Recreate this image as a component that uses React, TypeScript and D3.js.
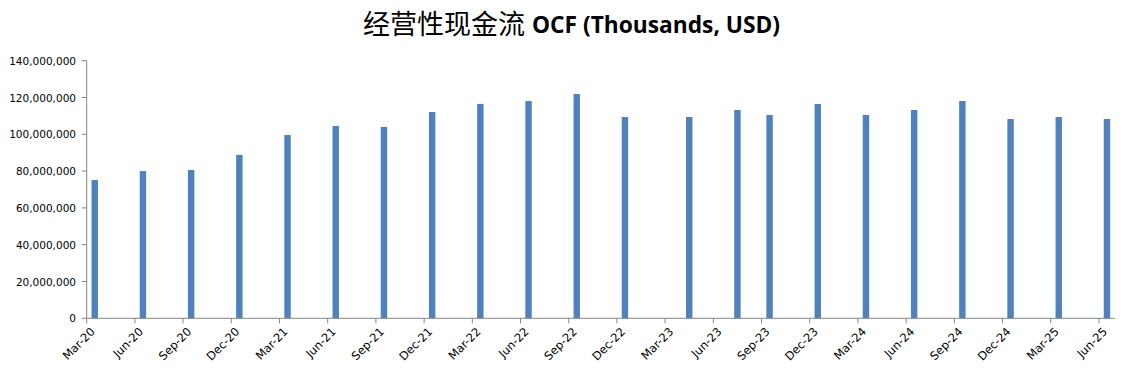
import React from "react";
import * as d3 from "d3";

const periods = ["2020-03","2020-06","2020-09","2020-12","2021-03","2021-06","2021-09","2021-12","2022-03","2022-06","2022-09","2022-12","2023-04","2023-07","2023-09","2023-12","2024-03","2024-06","2024-09","2024-12","2025-03","2025-06"];
const ocfValues = [75200000,80000000,80600000,88800000,99600000,104500000,104000000,112100000,116500000,118100000,121900000,109400000,109400000,113200000,110500000,116500000,110500000,113200000,118100000,108300000,109400000,108300000];
const yTicks = [0,20000000,40000000,60000000,80000000,100000000,120000000,140000000];
const monthNames = ["Jan","Feb","Mar","Apr","May","Jun","Jul","Aug","Sep","Oct","Nov","Dec"];
const startYear = 2020, startMonth = 3, monthCount = 64, tickStep = 3;

const W = 1139, H = 383;
const left = 86.7, right = 1115, top = 60.7, bottom = 318.3;

function monthIndex(p: string) {
  const [y, m] = p.split("-").map(Number);
  return (y - startYear) * 12 + (m - startMonth);
}
function indexLabel(i: number) {
  const total = startMonth - 1 + i;
  const y = startYear + Math.floor(total / 12);
  const m = total % 12;
  return `${monthNames[m]}-${String(y % 100).padStart(2, "0")}`;
}

export default function App() {
  const x = d3.scaleLinear().domain([0, monthCount]).range([left, right]);
  const y = d3.scaleLinear().domain([0, 140000000]).range([bottom, top]);
  const slot = x(1) - x(0);
  const bw = slot / 2.5;
  const fmt = d3.format(",");
  const xTicks = d3.range(0, monthCount, tickStep);
  const axisColor = "#868686";
  const font = "'DejaVu Sans', sans-serif";
  return (
    <div style={{ position: "absolute", left: 0, top: 0 }}>
      <svg width={W} height={H} style={{ display: "block", background: "#fff" }}>
        <text x={525} y={34} textAnchor="end" fontFamily="'Noto Sans CJK SC', sans-serif" fontSize={27} fontWeight={400} fill="#000">经营性现金流</text>
        <text x={532} y={33} fontFamily="'Open Sans', sans-serif" fontSize={24} fontWeight={700} fill="#000" textLength={248} lengthAdjust="spacingAndGlyphs">OCF (Thousands, USD)</text>
        {periods.map((p, i) => {
          const cx = x(monthIndex(p) + 0.5);
          return <rect key={p} x={cx - bw / 2} y={y(ocfValues[i])} width={bw} height={bottom - y(ocfValues[i])} fill="#4F81BD" />;
        })}
        <line x1={left} x2={left} y1={top} y2={bottom} stroke={axisColor} strokeWidth={1} />
        <line x1={left} x2={right} y1={bottom} y2={bottom} stroke={axisColor} strokeWidth={1} />
        {yTicks.map(t => (
          <g key={t}>
            <line x1={left - 5} x2={left} y1={y(t)} y2={y(t)} stroke={axisColor} />
            <text x={76} y={y(t) + 4} textAnchor="end" fontFamily={font} fontSize={10.5} fill="#000">{fmt(t)}</text>
          </g>
        ))}
        {xTicks.map(i => (
          <g key={i}>
            <line x1={x(i)} x2={x(i)} y1={bottom} y2={bottom + 5} stroke={axisColor} />
            <text transform={`translate(${x(i) + 9},${bottom + 14}) rotate(-45)`} textAnchor="end" fontFamily={font} fontSize={11.5} fill="#000">{indexLabel(i)}</text>
          </g>
        ))}
      </svg>
    </div>
  );
}
